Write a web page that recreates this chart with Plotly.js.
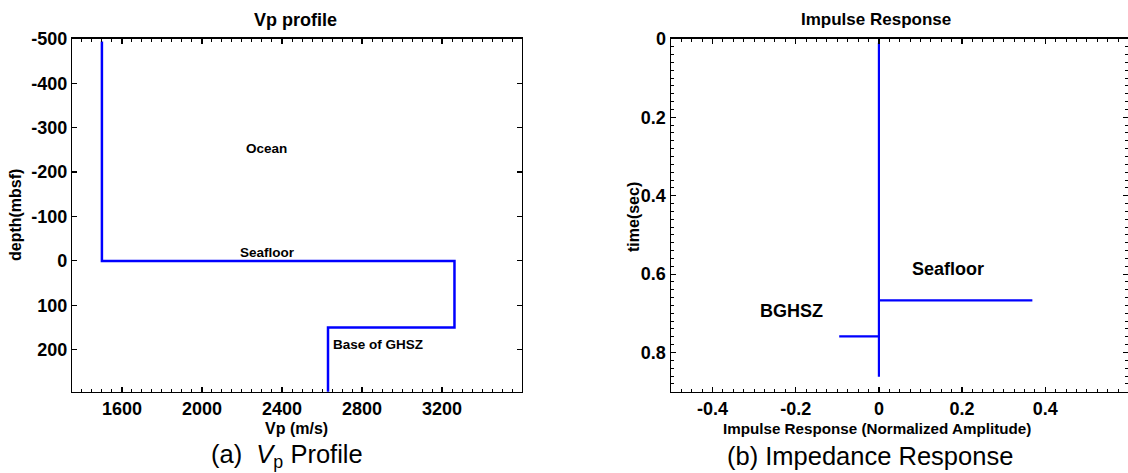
<!DOCTYPE html>
<html>
<head>
<meta charset="utf-8">
<script src="https://cdn.plot.ly/plotly-3.0.1.min.js"></script>
<style>
  html, body { margin: 0; padding: 0; background: #fff; }
  #chart { width: 1128px; height: 473px; }
</style>
</head>
<body>
<div id="chart"></div>
<script>
// P-wave velocity profile (step model)
const vpVelocity = [1500, 1500, 3262, 3262, 2630, 2630];
const vpDepth    = [-494, 0, 0, 150, 150, 300];

// Impulse response: spikes at the seafloor and at the base of the GHSZ
const irAmplitude = [0, 0, 0.369, 0, 0, -0.0955, 0, 0];
const irTime      = [0.01, 0.667, 0.667, 0.667, 0.759, 0.759, 0.759, 0.862];

// Labelled tick values
const depthTicks = [-500, -400, -300, -200, -100, 0, 100, 200];
const ampTicks = [-0.4, -0.2, 0, 0.2, 0.4];

// Tick spacing
const vpTickStep = 400, vpMinorStep = 50;
const depthTickStep = 100;
const ampTickStep = 0.2, ampMinorStep = 0.025;
const timeTickStep = 0.2, timeMinorStep = 0.02;

const W = 1128, H = 473;
const px = x => x / W;
const py = y => 1 - y / H;

const FONT = 'Liberation Sans, Arial, Helvetica, sans-serif';
const tickFont = { family: FONT, size: 18, color: '#000', weight: 700 };

// show negative tick labels with a plain hyphen
const hyphenAlias = vals => {
  const out = {};
  vals.filter(v => v < 0).forEach(v => {
    const s = String(v);
    out['\u2212' + s.slice(1)] = s;
  });
  return out;
};

const axisCommon = {
  showline: true, linecolor: '#000', linewidth: 1.5,
  mirror: 'ticks', ticks: 'inside', ticklen: 5, tickwidth: 1.2, tickcolor: '#000',
  showgrid: false, zeroline: false, tickfont: tickFont, tickmode: 'linear', tick0: 0
};
const minorTicks = step => ({
  tickmode: 'linear', tick0: 0, dtick: step,
  ticks: 'inside', ticklen: 3, tickwidth: 1, tickcolor: '#000', showgrid: false
});

const traces = [
  {
    x: vpVelocity, y: vpDepth, xaxis: 'x', yaxis: 'y',
    type: 'scatter', mode: 'lines',
    line: { color: '#0000ff', width: 2.5 }, hoverinfo: 'skip'
  },
  {
    x: irAmplitude, y: irTime, xaxis: 'x2', yaxis: 'y2',
    type: 'scatter', mode: 'lines',
    line: { color: '#0000ff', width: 2.2 }, hoverinfo: 'skip'
  }
];

function txt(text, x, y, size, opts) {
  return Object.assign({
    text: text, x: x, y: y, xref: 'paper', yref: 'paper',
    xanchor: 'center', yanchor: 'middle', showarrow: false,
    font: { family: FONT, size: size, color: '#000', weight: 700 }
  }, opts || {});
}

const annotations = [
  // panel titles
  txt('Vp profile', px(295), py(19.5), 18),
  txt('Impulse Response', px(876), py(19.5), 17),
  // axis titles
  txt('depth(mbsf)', px(15), py(215), 16, { textangle: -90 }),
  txt('Vp (m/s)', px(296.3), py(428), 16),
  txt('time(sec)', px(633), py(217), 16, { textangle: -90 }),
  txt('Impulse Response (Normalized Amplitude)', px(876.7), py(428), 15.2),
  // captions
  txt('(a)  <i>V</i><sub>p</sub> Profile', px(286.7), py(456), 25.5,
      { font: { family: FONT, size: 25.5, color: '#000', weight: 400 } }),
  txt('(b) Impedance Response', px(870), py(456), 25.5,
      { font: { family: FONT, size: 25.5, color: '#000', weight: 400 } }),
  // labels inside the Vp panel
  { text: 'Ocean', x: 2322, y: -254, xref: 'x', yref: 'y', showarrow: false,
    font: { family: FONT, size: 13.5, color: '#000', weight: 700 } },
  { text: 'Seafloor', x: 2328, y: -19, xref: 'x', yref: 'y', showarrow: false,
    font: { family: FONT, size: 13.5, color: '#000', weight: 700 } },
  { text: 'Base of GHSZ', x: 2882, y: 188, xref: 'x', yref: 'y', showarrow: false,
    font: { family: FONT, size: 13.5, color: '#000', weight: 700 } },
  // labels inside the impulse-response panel
  { text: 'Seafloor', x: 0.167, y: 0.5875, xref: 'x2', yref: 'y2', showarrow: false,
    font: { family: FONT, size: 18, color: '#000', weight: 700 } },
  { text: 'BGHSZ', x: -0.2095, y: 0.6946, xref: 'x2', yref: 'y2', showarrow: false,
    font: { family: FONT, size: 18, color: '#000', weight: 700 } }
];

const layout = {
  width: W, height: H,
  margin: { l: 0, r: 0, t: 0, b: 0 },
  paper_bgcolor: '#fff', plot_bgcolor: '#fff',
  showlegend: false,
  xaxis: Object.assign({}, axisCommon, {
    domain: [px(72.3), px(521.7)], range: [1352, 3598],
    dtick: vpTickStep, minor: minorTicks(vpMinorStep), anchor: 'y'
  }),
  yaxis: Object.assign({}, axisCommon, {
    domain: [py(391.7), py(38.7)], range: [294.5, -500.3],
    dtick: depthTickStep, labelalias: hyphenAlias(depthTicks), anchor: 'x'
  }),
  xaxis2: Object.assign({}, axisCommon, {
    domain: [px(671), 1], range: [-0.5, 0.599],
    dtick: ampTickStep, minor: minorTicks(ampMinorStep),
    labelalias: hyphenAlias(ampTicks), anchor: 'y2'
  }),
  yaxis2: Object.assign({}, axisCommon, {
    domain: [py(391.7), py(38.7)], range: [0.9, -0.0005],
    dtick: timeTickStep, minor: minorTicks(timeMinorStep), anchor: 'x2'
  }),
  annotations: annotations
};

Plotly.newPlot('chart', traces, layout, { staticPlot: true, displayModeBar: false });
</script>
</body>
</html>
